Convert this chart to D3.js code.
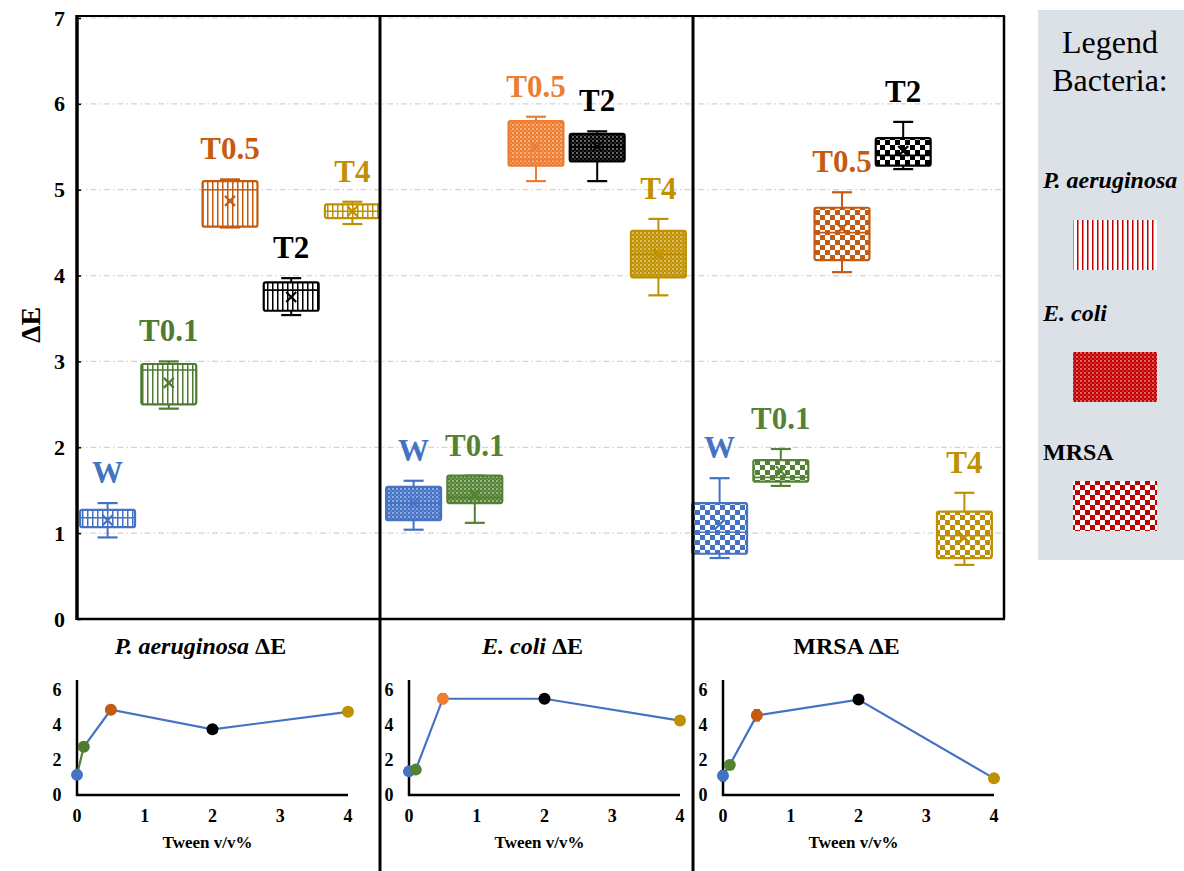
<!DOCTYPE html>
<html>
<head>
<meta charset="utf-8">
<script src="https://cdn.jsdelivr.net/npm/d3@7"></script>
<style>
  body { margin: 0; background: #fff; }
</style>
</head>
<body>
<div id="chart"></div>
<script>
// ---- data ----
var groups = ["W", "T0.1", "T0.5", "T2", "T4"];
var bacteria = ["P. aeruginosa", "E. coli", "MRSA"];
var tween = [0, 0.1, 0.5, 2, 4];
var yTicks = [0, 1, 2, 3, 4, 5, 6, 7];
var smallYTicks = [0, 2, 4, 6];
var smallXTicks = [0, 1, 2, 3, 4];

// P. aeruginosa boxes
var paMin  = [0.95, 2.45, 4.56, 3.54, 4.60];
var paQ1   = [1.07, 2.50, 4.57, 3.59, 4.67];
var paMed  = [1.18, 2.90, 5.00, 3.83, 4.75];
var paQ3   = [1.27, 2.97, 5.10, 3.92, 4.83];
var paMax  = [1.35, 3.00, 5.12, 3.97, 4.86];
var paMean = [1.15, 2.75, 4.87, 3.75, 4.75];
var paErr  = [0.05, 0.22, 0.25, 0.08, 0.05];
// E. coli boxes
var ecMin  = [1.04, 1.12, 5.10, 5.10, 3.77];
var ecQ1   = [1.15, 1.35, 5.28, 5.33, 3.98];
var ecMed  = [1.35, 1.42, 5.35, 5.50, 4.25];
var ecQ3   = [1.54, 1.67, 5.80, 5.65, 4.52];
var ecMax  = [1.61, 1.67, 5.85, 5.68, 4.66];
var ecMean = [1.35, 1.45, 5.50, 5.50, 4.25];
var ecErr  = [0.10, 0.10, 0.28, 0.15, 0.22];
// MRSA boxes
var mrMin  = [0.71, 1.55, 4.04, 5.24, 0.63];
var mrQ1   = [0.76, 1.60, 4.18, 5.28, 0.71];
var mrMed  = [1.01, 1.65, 4.50, 5.40, 0.97];
var mrQ3   = [1.35, 1.85, 4.79, 5.60, 1.25];
var mrMax  = [1.64, 1.98, 4.97, 5.79, 1.47];
var mrMean = [1.10, 1.72, 4.55, 5.45, 0.95];
var mrErr  = [0.30, 0.10, 0.32, 0.12, 0.08];

var panels = [
  {name: bacteria[0], pattern: "vlines", min: paMin, q1: paQ1, med: paMed, q3: paQ3, max: paMax, mean: paMean, err: paErr},
  {name: bacteria[1], pattern: "dots",   min: ecMin, q1: ecQ1, med: ecMed, q3: ecQ3, max: ecMax, mean: ecMean, err: ecErr},
  {name: bacteria[2], pattern: "checker",min: mrMin, q1: mrQ1, med: mrMed, q3: mrQ3, max: mrMax, mean: mrMean, err: mrErr}
];

// ---- styles ----
var FONT = "'Liberation Serif', 'Times New Roman', Times, 'DejaVu Serif', serif";
var palettes = [
  ["#4472C4", "#4E7A32", "#C55A11", "#000000", "#BF9000"],
  ["#4472C4", "#548235", "#ED7D31", "#000000", "#BF9000"],
  ["#4472C4", "#548235", "#C55A11", "#000000", "#BF9000"]
];
var legendRed = "#C00000";

var W = 1184, H = 871;
var svg = d3.select("#chart").append("svg").attr("width", W).attr("height", H)
  .style("font-family", FONT);
var defs = svg.append("defs");

function makePattern(id, type, color) {
  var p;
  if (type === "vlines") {
    p = defs.append("pattern").attr("id", id).attr("patternUnits", "userSpaceOnUse")
      .attr("width", 5).attr("height", 10);
    p.append("rect").attr("width", 5).attr("height", 10).attr("fill", "#fff");
    p.append("rect").attr("x", 2).attr("width", 1.5).attr("height", 10).attr("fill", color);
  } else if (type === "dots") {
    p = defs.append("pattern").attr("id", id).attr("patternUnits", "userSpaceOnUse")
      .attr("width", 4).attr("height", 4);
    p.append("rect").attr("width", 4).attr("height", 4).attr("fill", color);
    p.append("circle").attr("cx", 1).attr("cy", 1).attr("r", 0.75).attr("fill", "#fff");
    p.append("circle").attr("cx", 3).attr("cy", 3).attr("r", 0.6).attr("fill", "#fff").attr("opacity", 0.7);
  } else {
    p = defs.append("pattern").attr("id", id).attr("patternUnits", "userSpaceOnUse")
      .attr("width", 10).attr("height", 10);
    p.append("rect").attr("width", 10).attr("height", 10).attr("fill", color);
    p.append("rect").attr("width", 5).attr("height", 5).attr("fill", "#fff");
    p.append("rect").attr("x", 5).attr("y", 5).attr("width", 5).attr("height", 5).attr("fill", "#fff");
  }
}

// ---- main box chart ----
var margin = {left: 77, top: 18, right: 1005, bottom: 619};
var keys = [];
panels.forEach(function(p) { groups.forEach(function(g) { keys.push(p.name + "|" + g); }); });

var x = d3.scaleBand().domain(keys).range([77, 995]).paddingInner(0.07).paddingOuter(0.035);
var y = d3.scaleLinear().domain([0, 7]).range([margin.bottom, margin.top]);

// gridlines
svg.append("g").selectAll("line").data(yTicks).enter().append("line")
  .attr("x1", margin.left).attr("x2", margin.right)
  .attr("y1", function(d) { return y(d); }).attr("y2", function(d) { return y(d); })
  .attr("stroke", "#d4d4d4").attr("stroke-width", 1.2)
  .attr("stroke-dasharray", "6,3,1.5,3");

// y axis
var yAxis = d3.axisLeft(y).tickValues(yTicks).tickFormat(d3.format("d")).tickSize(-4).tickPadding(12);
var gy = svg.append("g").attr("transform", "translate(" + margin.left + ",0)").call(yAxis)
  .attr("font-family", null);
gy.select(".domain").remove();
gy.selectAll(".tick line").attr("stroke", "#000").attr("stroke-width", 1.5);
gy.selectAll(".tick text").attr("font-size", 22).attr("font-weight", "bold").attr("fill", "#000");

svg.append("text").attr("transform", "translate(40,325) rotate(-90)")
  .attr("text-anchor", "middle").attr("font-size", 28).attr("font-weight", "bold").text("ΔE");

// boxes
panels.forEach(function(p, pi) {
  groups.forEach(function(g, gi) {
    makePattern("pat" + pi + "_" + gi, p.pattern, palettes[pi][gi]);
  });
  var data = groups.map(function(g, gi) {
    return {key: p.name + "|" + g, g: g, gi: gi, min: p.min[gi], q1: p.q1[gi], med: p.med[gi],
            q3: p.q3[gi], max: p.max[gi], mean: p.mean[gi], color: palettes[pi][gi]};
  });
  var bw = x.bandwidth();
  var grp = svg.append("g").selectAll("g").data(data).enter().append("g");
  grp.each(function(d) {
    var s = d3.select(this);
    var cx = x(d.key) + bw / 2;
    s.append("line").attr("x1", cx).attr("x2", cx).attr("y1", y(d.max)).attr("y2", y(d.q3))
      .attr("stroke", d.color).attr("stroke-width", 2);
    s.append("line").attr("x1", cx).attr("x2", cx).attr("y1", y(d.q1)).attr("y2", y(d.min))
      .attr("stroke", d.color).attr("stroke-width", 2);
    [d.max, d.min].forEach(function(v) {
      s.append("line").attr("x1", cx - 10).attr("x2", cx + 10).attr("y1", y(v)).attr("y2", y(v))
        .attr("stroke", d.color).attr("stroke-width", 2.2);
    });
    s.append("rect").attr("x", x(d.key) + 1).attr("width", bw - 2)
      .attr("y", y(d.q3)).attr("height", y(d.q1) - y(d.q3))
      .attr("rx", 2).attr("fill", "url(#pat" + pi + "_" + d.gi + ")")
      .attr("stroke", d.color).attr("stroke-width", 2.2);
    s.append("line").attr("x1", x(d.key) + 1).attr("x2", x(d.key) + bw - 1)
      .attr("y1", y(d.med)).attr("y2", y(d.med)).attr("stroke", d.color).attr("stroke-width", 1.6);
    var my = y(d.mean);
    s.append("path").attr("d", "M" + (cx - 5) + "," + (my - 5) + "L" + (cx + 5) + "," + (my + 5) +
        "M" + (cx + 5) + "," + (my - 5) + "L" + (cx - 5) + "," + (my + 5))
      .attr("stroke", d.color).attr("stroke-width", 2.2);
    s.append("text").attr("x", cx).attr("y", y(d.max) - 20)
      .attr("text-anchor", "middle").attr("font-size", 31).attr("font-weight", "bold")
      .attr("fill", d.color).text(d.g);
  });
});

// frame
var frame = svg.append("g").attr("stroke", "#000").attr("fill", "none");
frame.append("line").attr("x1", margin.left).attr("x2", margin.right).attr("y1", 16).attr("y2", 16).attr("stroke-width", 2);
frame.append("line").attr("x1", margin.right - 1).attr("x2", margin.right - 1).attr("y1", 16).attr("y2", margin.bottom).attr("stroke-width", 2.5);
frame.append("line").attr("x1", margin.left).attr("x2", margin.right).attr("y1", margin.bottom).attr("y2", margin.bottom).attr("stroke-width", 2.5);
frame.append("line").attr("x1", margin.left).attr("x2", margin.left).attr("y1", 15).attr("y2", margin.bottom + 1).attr("stroke-width", 3.5);
// panel dividers
[380, 693].forEach(function(dx) {
  frame.append("line").attr("x1", dx).attr("x2", dx).attr("y1", 15).attr("y2", H).attr("stroke-width", 3);
});

// ---- small line charts ----
var smallX0 = [77, 409, 723];
var smallW = 271;
var titleParts = [
  [{t: "P. aeruginosa", i: true}, {t: " ΔE", i: false}],
  [{t: "E. coli", i: true}, {t: " ΔE", i: false}],
  [{t: "MRSA ΔE", i: false}]
];

panels.forEach(function(p, pi) {
  var x0 = smallX0[pi];
  var xs = d3.scaleLinear().domain([0, 4]).range([x0, x0 + smallW]);
  var ys = d3.scaleLinear().domain([0, 6.57]).range([795, 680]);
  var g = svg.append("g");

  var title = g.append("text").attr("x", x0 + smallW / 2 - 12).attr("y", 654)
    .attr("text-anchor", "middle").attr("font-size", 24).attr("font-weight", "bold");
  titleParts[pi].forEach(function(tp) {
    title.append("tspan").attr("font-style", tp.i ? "italic" : "normal").text(tp.t);
  });

  g.append("line").attr("x1", x0).attr("x2", x0).attr("y1", 680).attr("y2", 796)
    .attr("stroke", "#000").attr("stroke-width", 2.5);
  g.append("line").attr("x1", x0 - 1).attr("x2", x0 + smallW).attr("y1", 795).attr("y2", 795)
    .attr("stroke", "#000").attr("stroke-width", 2.5);

  g.selectAll(".yt").data(smallYTicks).enter().append("text")
    .attr("x", x0 - 20).attr("y", function(d) { return ys(d) + 6; })
    .attr("text-anchor", "middle").attr("font-size", 18).attr("font-weight", "bold").text(function(d) { return d; });
  g.selectAll(".xt").data(smallXTicks).enter().append("text")
    .attr("x", function(d) { return xs(d); }).attr("y", 822)
    .attr("text-anchor", "middle").attr("font-size", 18).attr("font-weight", "bold").text(function(d) { return d; });
  g.append("text").attr("x", x0 + smallW / 2 - 5).attr("y", 848).attr("text-anchor", "middle")
    .attr("font-size", 17).attr("font-weight", "bold").text("Tween v/v%");

  var pts = tween.map(function(t, i) { return {t: t, v: p.mean[i], e: p.err[i], c: palettes[pi][i]}; });
  var line = d3.line().x(function(d) { return xs(d.t); }).y(function(d) { return ys(d.v); });
  g.append("path").attr("d", line(pts.slice(1))).attr("fill", "none")
    .attr("stroke", "#4472C4").attr("stroke-width", 2.2);
  g.append("path").attr("d", line(pts.slice(0, 2))).attr("fill", "none")
    .attr("stroke", pi === 1 ? "#4472C4" : "#548235").attr("stroke-width", 2.2);

  pts.forEach(function(d) {
    var px = xs(d.t);
    g.append("line").attr("x1", px).attr("x2", px).attr("y1", ys(d.v + d.e)).attr("y2", ys(d.v - d.e))
      .attr("stroke", "#333").attr("stroke-width", 1);
    [d.v + d.e, d.v - d.e].forEach(function(v) {
      g.append("line").attr("x1", px - 3).attr("x2", px + 3).attr("y1", ys(v)).attr("y2", ys(v))
        .attr("stroke", "#333").attr("stroke-width", 1);
    });
    g.append("circle").attr("cx", px).attr("cy", ys(d.v)).attr("r", 6).attr("fill", d.c);
  });
});

// ---- legend ----
var leg = svg.append("g");
leg.append("rect").attr("x", 1038).attr("y", 10).attr("width", 146).attr("height", 550).attr("fill", "#DCE1E8");
leg.append("text").attr("x", 1110).attr("y", 53).attr("text-anchor", "middle").attr("font-size", 32).text("Legend");
leg.append("text").attr("x", 1110).attr("y", 91).attr("text-anchor", "middle").attr("font-size", 32).text("Bacteria:");
var legItems = [
  {name: bacteria[0], italic: true, ty: 188, sy: 220, pattern: "vlines"},
  {name: bacteria[1], italic: true, ty: 321, sy: 352, pattern: "dots"},
  {name: bacteria[2], italic: false, ty: 460, sy: 481, pattern: "checker"}
];
legItems.forEach(function(d, i) {
  makePattern("leg" + i, d.pattern, legendRed);
  leg.append("text").attr("x", 1043).attr("y", d.ty).attr("font-size", 24).attr("font-weight", "bold")
    .attr("font-style", d.italic ? "italic" : "normal").text(d.name);
  leg.append("rect").attr("x", 1073).attr("y", d.sy).attr("width", 84).attr("height", 50)
    .attr("fill", "url(#leg" + i + ")");
});
</script>
</body>
</html>
